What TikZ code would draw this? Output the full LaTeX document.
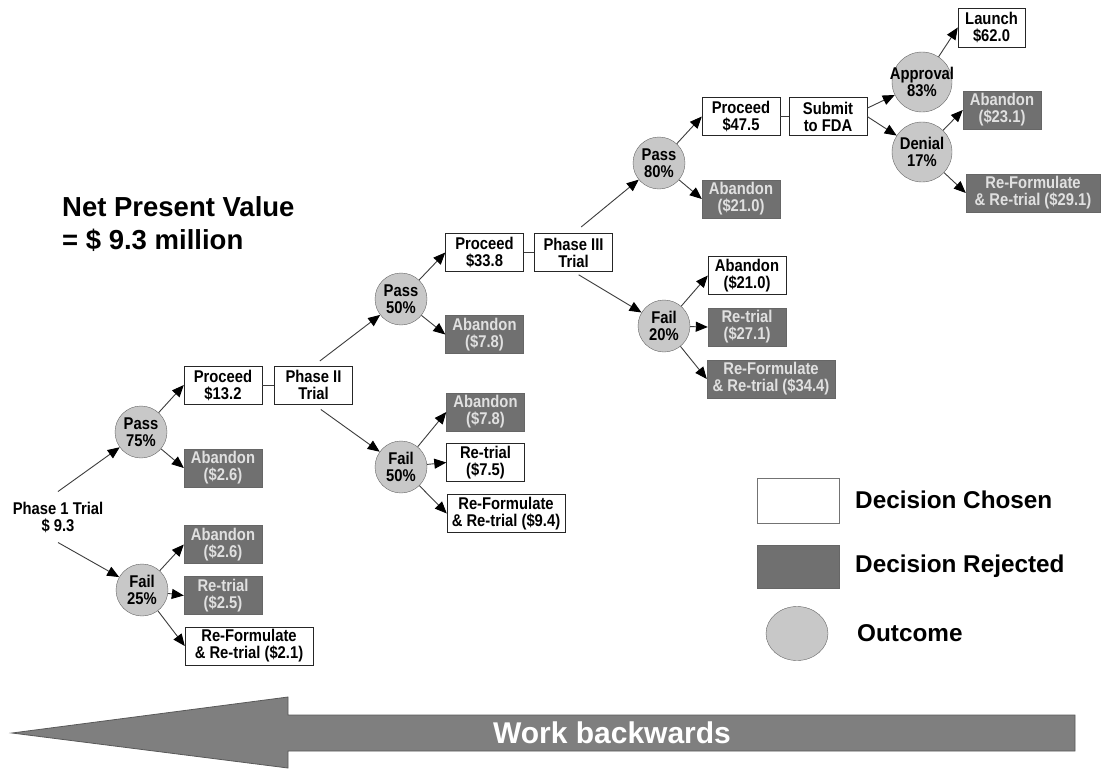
\documentclass[tikz,border=0pt]{standalone}
\usepackage{fontspec}
\setmainfont{Liberation Sans}
% narrow, tall face for the labels inside the tree
\newfontfamily\treefont[FakeStretch=0.87]{Liberation Sans}
\usetikzlibrary{arrows.meta,shapes.geometric}
\definecolor{boxgray}{HTML}{707070}
\definecolor{circgray}{HTML}{C8C8C8}
\definecolor{arrowgray}{HTML}{7F7F7F}
\definecolor{linegray}{HTML}{3C3C3C}
% zero-width box so long outcome labels do not enlarge their circle
\newcommand{\ctrtext}[1]{\makebox[0pt]{#1}}
\begin{document}
\begin{tikzpicture}[x=1pt,y=-1pt,
  every node/.style={inner sep=0pt, align=center, font=\treefont\fontsize{17}{17}\selectfont\bfseries},
  chosen/.style={draw=black!85, fill=white, minimum width=78pt, minimum height=38pt},
  rejected/.style={draw=black!60, fill=boxgray, text=white!88!black, minimum width=78pt, minimum height=38pt},
  outcome/.style={circle, draw=black!60, fill=circgray, minimum size=52pt},
  link/.style={draw=linegray, line width=0.9pt, -{Triangle[length=12pt,width=10pt,color=black]}},
  tie/.style={draw=linegray, line width=0.9pt},
  legendtext/.style={anchor=base west, font=\fontsize{24.3}{28}\selectfont\bfseries}
]
\useasboundingbox (0,0) rectangle (1102,769);
\fill[white] (0,0) rectangle (1102,769);

% ---- Phase 1 ----
\node[inner ysep=10pt, inner xsep=2pt] (ph1) at (58,517) {Phase 1 Trial\\\$ 9.3};
\node[outcome] (p75) at (141,432) {\ctrtext{Pass}\\\ctrtext{75\%}};
\node[outcome] (f25) at (142,590) {\ctrtext{Fail}\\\ctrtext{25\%}};
\node[chosen] (pr1) at (223,385) {Proceed\\\$13.2};
\node[chosen] (ph2) at (313.5,385) {Phase II\\Trial};
\node[rejected] (ab1) at (223,468) {Abandon\\(\$2.6)};
\node[rejected] (ab2) at (223,544.5) {Abandon\\(\$2.6)};
\node[rejected] (rt1) at (223,595.5) {Re-trial\\(\$2.5)};
\node[chosen, minimum width=128pt] (rf1) at (249,646) {Re-Formulate\\\& Re-trial (\$2.1)};

% ---- Phase II ----
\node[outcome] (p50) at (401,299) {\ctrtext{Pass}\\\ctrtext{50\%}};
\node[outcome] (f50) at (401,467) {\ctrtext{Fail}\\\ctrtext{50\%}};
\node[rejected] (ab3) at (484.5,334.5) {Abandon\\(\$7.8)};
\node[rejected] (ab4) at (485.5,412) {Abandon\\(\$7.8)};
\node[chosen] (rt2) at (485.5,462.5) {Re-trial\\(\$7.5)};
\node[chosen, minimum width=118pt] (rf2) at (506,513.5) {Re-Formulate\\\& Re-trial (\$9.4)};
\node[chosen] (pr2) at (484.5,252.5) {Proceed\\\$33.8};
\node[chosen] (ph3) at (573.5,252.5) {Phase III\\Trial};

% ---- Phase III ----
\node[outcome] (p80) at (659,163) {\ctrtext{Pass}\\\ctrtext{80\%}};
\node[outcome] (f20) at (664,326) {\ctrtext{Fail}\\\ctrtext{20\%}};
\node[rejected] (ab5) at (741,199) {Abandon\\(\$21.0)};
\node[chosen] (ab6) at (747,275.5) {Abandon\\(\$21.0)};
\node[rejected] (rt3) at (747,327) {Re-trial\\(\$27.1)};
\node[rejected, minimum width=128pt] (rf3) at (771,379) {Re-Formulate\\\& Re-trial (\$34.4)};
\node[chosen] (pr3) at (741,116.5) {Proceed\\\$47.5};
\node[chosen] (sub) at (828,116.5) {Submit\\to FDA};

% ---- FDA ----
\node[outcome, minimum size=60pt] (app) at (922,82) {\ctrtext{Approval}\\\ctrtext{83\%}};
\node[outcome, minimum size=60pt] (den) at (922,152) {\ctrtext{Denial}\\\ctrtext{17\%}};
\node[chosen, minimum width=67pt, minimum height=39pt] (lau) at (991.5,27.5) {Launch\\\$62.0};
\node[rejected] (ab7) at (1002,110) {Abandon\\(\$23.1)};
\node[rejected, minimum width=134pt] (rf4) at (1033,193) {Re-Formulate\\\& Re-trial (\$29.1)};

% ---- connectors ----
\draw[link] (ph1.north) -- (p75);
\draw[link] (ph1.south) -- (f25);
\draw[link] (p75) -- (pr1.west);
\draw[link] (p75) -- (ab1.west);
\draw[link] (f25) -- (ab2.west);
\draw[link] (f25) -- (rt1.west);
\draw[link] (f25) -- (rf1.west);
\draw[tie] (pr1.east) -- (ph2.west);

\draw[link, shorten <=8pt] (ph2.north) -- (p50);
\draw[link, shorten <=9pt] (ph2.south) -- (f50);
\draw[link] (p50) -- (pr2.west);
\draw[link] (p50) -- (ab3.west);
\draw[link] (f50) -- (ab4.west);
\draw[link] (f50) -- (rt2.west);
\draw[link] (f50) -- (rf2.west);
\draw[tie] (pr2.east) -- (ph3.west);

\draw[link, shorten <=10pt] (ph3.north) -- (p80);
\draw[link, shorten <=6pt] (ph3.south) -- (f20);
\draw[link] (p80) -- (pr3.west);
\draw[link] (p80) -- (ab5.west);
\draw[link] (f20) -- (ab6.west);
\draw[link] (f20) -- (rt3.west);
\draw[link] (f20) -- (rf3.west);
\draw[tie] (pr3.east) -- (sub.west);

\draw[link] (sub.12) -- (app);
\draw[link] (sub.east) -- (den);
\draw[link] (app) -- (lau.west);
\draw[link] (den) -- (ab7.west);
\draw[link] (den) -- (rf4.west);

% ---- headline value ----
\node[anchor=west, align=left, font=\fontsize{27.5}{33}\selectfont\bfseries] (npv) at (62,224)
  {Net Present Value\\= \$ 9.3 million};

% ---- legend ----
\node[chosen, draw=black!55, minimum width=82pt, minimum height=45pt] (lgc) at (798,500.5) {};
\node[rejected, minimum width=82pt, minimum height=43pt] (lgr) at (798,566.5) {};
\node[ellipse, draw=black!60, fill=circgray, minimum width=62pt, minimum height=54pt] (lgo) at (797,633.5) {};
\node[legendtext] (tc) at (855,508) {Decision Chosen};
\node[legendtext] (tr) at (855,572) {Decision Rejected};
\node[legendtext] (to) at (857,641) {Outcome};

% ---- direction arrow ----
\filldraw[fill=arrowgray, draw=black!65, line width=0.8pt]
  (12,733) -- (288,697) -- (288,715) -- (1075,715) -- (1075,751) -- (288,751) -- (288,768) -- cycle;
\node[text=white, font=\fontsize{30}{36}\selectfont\bfseries] (wb) at (612,733) {Work backwards};
\end{tikzpicture}
\end{document}
